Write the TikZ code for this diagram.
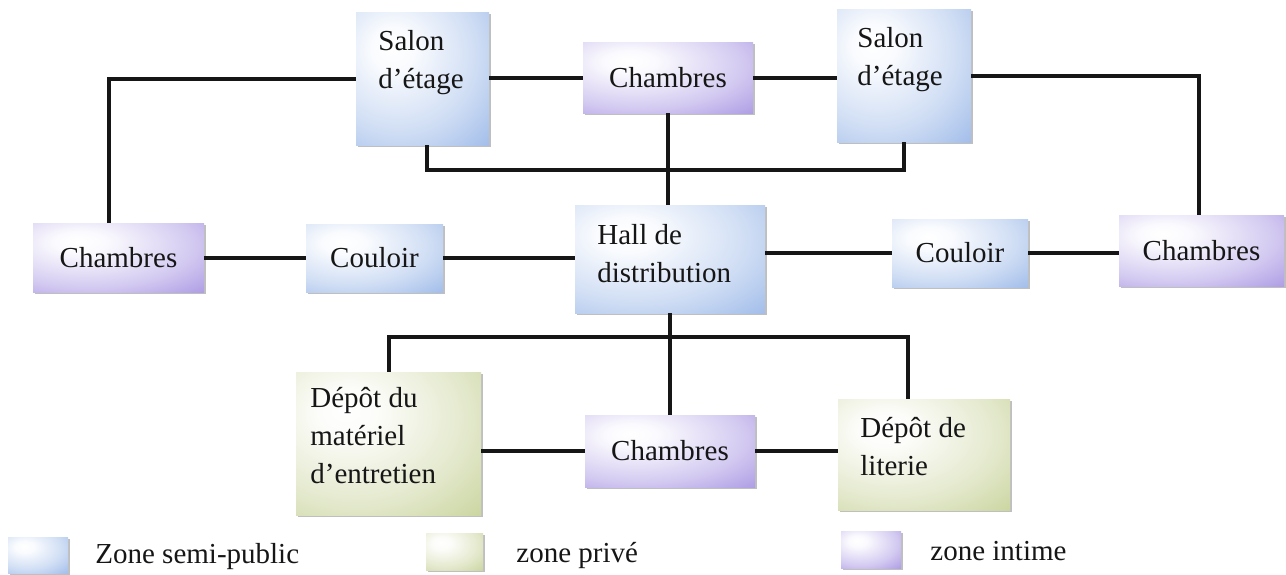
\documentclass[tikz,border=0pt]{standalone}
\usepackage{fontspec}
\setmainfont{Liberation Serif}
\usetikzlibrary{shadows}
\definecolor{blueZ}{RGB}{146,178,230}
\definecolor{purpZ}{RGB}{160,140,224}
\definecolor{greenZ}{RGB}{194,206,144}
\definecolor{inkZ}{RGB}{22,22,22}
\pgfdeclareradialshading{shblue}{\pgfpoint{-12bp}{12bp}}{color(0bp)=(white); color(8bp)=(white!95!blueZ); color(30bp)=(white!55!blueZ); color(52bp)=(blueZ); color(120bp)=(blueZ)}
\pgfdeclareradialshading{shpurp}{\pgfpoint{-12bp}{12bp}}{color(0bp)=(white); color(8bp)=(white!95!purpZ); color(30bp)=(white!55!purpZ); color(52bp)=(purpZ); color(120bp)=(purpZ)}
\pgfdeclareradialshading{shgreen}{\pgfpoint{-12bp}{12bp}}{color(0bp)=(white); color(8bp)=(white!95!greenZ); color(30bp)=(white!55!greenZ); color(52bp)=(greenZ); color(120bp)=(greenZ)}
\tikzset{
  zbox/.style={rectangle, inner sep=0pt, text=inkZ, font=\fontsize{14.5}{19}\selectfont,
    drop shadow={shadow xshift=0.9pt, shadow yshift=-0.9pt, opacity=0.25, fill=black}},
  zblue/.style={zbox, shading=shblue},
  zpurp/.style={zbox, shading=shpurp},
  zgreen/.style={zbox, shading=shgreen},
  ztext/.style={anchor=base west, inner sep=0pt, align=left, text=inkZ, font=\fontsize{14.5}{19}\selectfont},
  link/.style={draw=inkZ, line width=2pt}
}
\begin{document}
\begin{tikzpicture}[x=0.5pt,y=-0.5pt]
\useasboundingbox (0,0) rectangle (1286,574);
% boxes
\node[zblue, minimum width=66.5pt, minimum height=66.5pt] (sL) at (422.5,78.5) {};
\node[zpurp, minimum width=85pt, minimum height=35.5pt] (cT) at (668,77.5) {Chambres};
\node[zblue, minimum width=67pt, minimum height=66.5pt] (sR) at (904,75.5) {};
\node[zpurp, minimum width=85.5pt, minimum height=34.5pt] (cL) at (118.5,257.5) {Chambres};
\node[zblue, minimum width=68.5pt, minimum height=34pt] (coL) at (374.5,258) {Couloir};
\node[zblue, minimum width=95pt, minimum height=54pt] (hall) at (670,259) {};
\node[zblue, minimum width=68pt, minimum height=34pt] (coR) at (960,253) {Couloir};
\node[zpurp, minimum width=82.5pt, minimum height=35.5pt] (cR) at (1201.5,250.5) {Chambres};
\node[zgreen, minimum width=92.5pt, minimum height=71.5pt] (dM) at (388.5,443.5) {};
\node[zpurp, minimum width=85pt, minimum height=36pt] (cB) at (670,451) {Chambres};
\node[zgreen, minimum width=86pt, minimum height=55.5pt] (dL) at (924,454.5) {};
% multi-line texts (anchored at the baseline of the last line)
\node[ztext] (tsL) at (378,88) {Salon\\d’étage};
\node[ztext] (tsR) at (857,85) {Salon\\d’étage};
\node[ztext] (thall) at (597,282) {Hall de\\distribution};
\node[ztext] (tdM) at (310,483) {Dépôt du\\matériel\\d’entretien};
\node[ztext] (tdL) at (860,475) {Dépôt de\\literie};
% junctions
\coordinate (jT) at (669,170);
\coordinate (jB) at (670,337);
% connectors
\draw[link] (sL.west) -| ([xshift=-5pt]cL.north);
\draw[link] (sL.east |- cT.west) -- (cT.west);
\draw[link] (cT.east) -- (cT.east -| sR.west);
\draw[link] (sR.east) -| ([xshift=-1.5pt]cR.north);
\draw[link] ([xshift=2pt]sL.south) |- (jT) -| (sR.south);
\draw[link] (cT.south) -- (cT.south |- hall.north);
\draw[link] (cL.east |- coL.west) -- (coL.west);
\draw[link] (coL.east) -- (coL.east -| hall.west);
\draw[link] (hall.east |- coR.west) -- (coR.west);
\draw[link] (coR.east) -- (coR.east -| cR.west);
\draw[link] (hall.south) -- (cB.north);
\draw[link] (dM.north) |- (jB) -| ([xshift=-8pt]dL.north);
\draw[link] (dM.east |- cB.west) -- (cB.west);
\draw[link] (cB.east) -- (cB.east -| dL.west);
% legend
\node[zblue, minimum width=30pt, minimum height=18pt] (lgB) at (38,555) {};
\node[zgreen, minimum width=28.5pt, minimum height=18.5pt] (lgG) at (454.5,551.5) {};
\node[zpurp, minimum width=30pt, minimum height=18.5pt] (lgP) at (871,549.5) {};
\node[ztext] (tlgB) at (95,563) {Zone semi-public};
\node[ztext] (tlgG) at (516,562) {zone privé};
\node[ztext] (tlgP) at (930,560) {zone intime};
\end{tikzpicture}
\end{document}
